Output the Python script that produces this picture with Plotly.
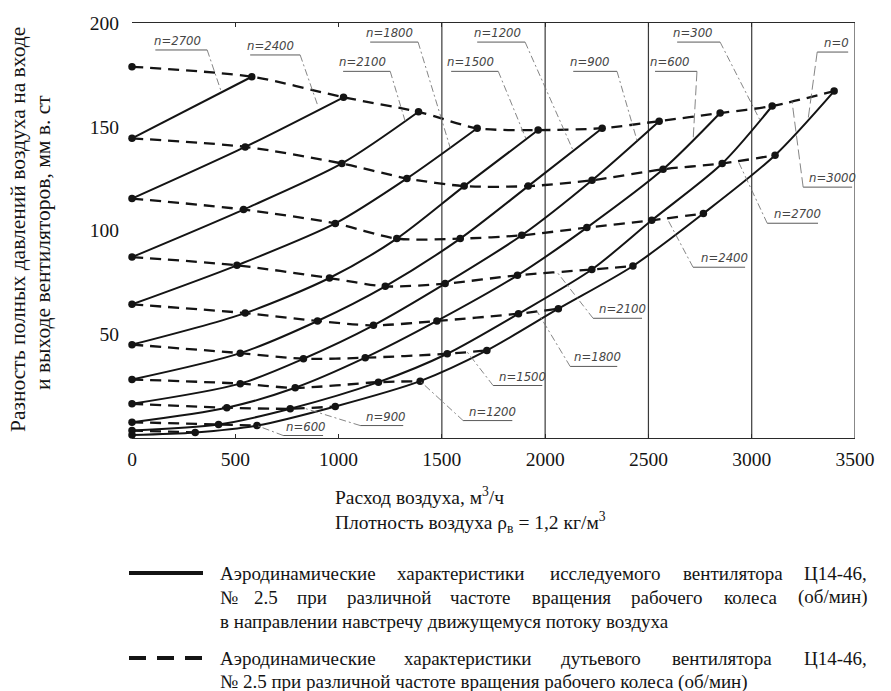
import plotly.graph_objects as go

# Blower fan characteristics (dashed family), one series per rotor speed, об/мин.
# Point j of the series for speed n lies on the studied-fan curve of speed n - 300*j.
q_3000 = [0, 580, 1024, 1387, 1671, 1966, 2276, 2552, 2847, 3099, 3399]
h_3000 = [178.9, 174.1, 164.2, 157.2, 149.3, 148.4, 149.3, 152.7, 156.6, 160.0, 167.2]
q_2700 = [0, 548, 1016, 1331, 1608, 1918, 2227, 2571, 2857, 3113]
h_2700 = [144.4, 140.3, 132.3, 125.1, 121.4, 121.4, 124.2, 129.5, 132.3, 136.3]
q_2400 = [0, 540, 984, 1282, 1589, 1887, 2202, 2516, 2766]
h_2400 = [115.4, 110.1, 103.4, 96.1, 96.1, 97.7, 101.4, 104.9, 108.2]
q_2100 = [0, 508, 956, 1226, 1516, 1866, 2226, 2425]
h_2100 = [87.2, 83.2, 77.1, 73.1, 74.4, 78.4, 81.2, 82.9]
q_1800 = [0, 548, 898, 1169, 1476, 1871, 2064]
h_1800 = [64.4, 60.2, 56.4, 54.3, 56.4, 59.9, 62.3]
q_1500 = [0, 524, 830, 1129, 1526, 1718]
h_1500 = [45.0, 40.9, 38.2, 38.7, 40.6, 42.2]
q_1200 = [0, 524, 790, 1193, 1395]
h_1200 = [28.2, 26.2, 24.2, 26.9, 27.4]
q_900 = [0, 459, 766, 984]
h_900 = [16.5, 14.6, 14.1, 15.2]
q_600 = [0, 419, 605]
h_600 = [7.6, 6.5, 6.0]
q_300 = [0, 306]
h_300 = [3.6, 2.7]
q_0 = [0]
h_0 = [1.5]

blower_speeds = [3000, 2700, 2400, 2100, 1800, 1500, 1200, 900, 600, 300, 0]
blower_q = [q_3000, q_2700, q_2400, q_2100, q_1800, q_1500, q_1200, q_900, q_600, q_300, q_0]
blower_h = [h_3000, h_2700, h_2400, h_2100, h_1800, h_1500, h_1200, h_900, h_600, h_300, h_0]
fan_speeds = [2700, 2400, 2100, 1800, 1500, 1200, 900, 600, 300, 0]

x_ticks = [0, 500, 1000, 1500, 2000, 2500, 3000, 3500]
y_ticks = [50, 100, 150, 200]
x_grid = [1500, 2000, 2500, 3000, 3500]

# Curve labels: text, text centre x, underline (x0, x1, y), leader (x0, y0, x1, y1), leader dash
fan_labels = [
    ("n=2700", 220, 113, 364, 187.0, 364, 187.0, 430, 167.5, "dashdot"),
    ("n=2400", 670, 572, 814, 184.6, 814, 184.6, 900, 160.0, "dashdot"),
    ("n=2100", 1114, 1022, 1250, 176.7, 1250, 176.7, 1322, 152.8, "dashdot"),
    ("n=1800", 1246, 1153, 1385, 190.8, 1385, 190.8, 1540, 140.0, "dashdot"),
    ("n=1500", 1637, 1545, 1773, 176.7, 1773, 176.7, 1908, 144.0, "dashdot"),
    ("n=1200", 1767, 1671, 1903, 190.8, 1903, 190.8, 2136, 138.4, "dashdot"),
    ("n=900", 2217, 2136, 2348, 176.7, 2348, 176.7, 2445, 143.3, "dashdot"),
    ("n=600", 2605, 2532, 2735, 176.7, 2735, 176.7, 2716, 143.0, "longdash"),
    ("n=300", 2717, 2639, 2847, 190.8, 2847, 190.8, 3040, 153.2, "dashdot"),
    ("n=0", 3408, 3317, 3467, 186.0, 3317, 186.0, 3273, 153.6, "longdash"),
]
blower_labels = [
    ("n=3000", 3389, 3249, 3486, 120.9, 3249, 120.9, 3195, 162.3, "longdash"),
    ("n=2700", 3220, 3075, 3321, 103.5, 3075, 103.5, 2934, 133.5, "dashdot"),
    ("n=2400", 2867, 2716, 2968, 82.3, 2716, 82.3, 2590, 105.9, "dashdot"),
    ("n=2100", 2373, 2232, 2469, 57.7, 2232, 57.7, 2058, 79.9, "dashdot"),
    ("n=1800", 2252, 2121, 2349, 34.5, 2121, 34.5, 1961, 61.0, "dashdot"),
    ("n=1500", 1889, 1748, 1986, 25.3, 1748, 25.3, 1623, 41.4, "dashdot"),
    ("n=1200", 1743, 1603, 1841, 8.4, 1603, 8.4, 1395, 27.4, "dashdot"),
    ("n=900", 1230, 1105, 1313, 6.0, 1105, 6.0, 829, 14.5, "dashdot"),
    ("n=600", 843, 732, 925, 1.2, 732, 1.2, 610, 5.8, "dashdot"),
]

INK = "#141414"
GREY = "#5a5a5a"
SERIF = "Liberation Serif, Times New Roman, serif"
NARROW = "Liberation Sans Narrow, DejaVu Sans Condensed, DejaVu Sans, sans-serif"

W, H = 891, 691
ML, MR, MT, MB = 132, 36, 23, 253
PW, PH = W - ML - MR, H - MT - MB


def fx(px):
    return (px - ML) / PW


def fy(py):
    return (MT + PH - py) / PH


fig = go.Figure()

# studied fan: solid curves, one per rotor speed
for a in fan_speeds:
    pts = []
    for b, q, h in zip(blower_speeds, blower_q, blower_h):
        if b >= a:
            j = (b - a) // 300
            pts.append((q[j], h[j]))
    pts.sort()
    fig.add_trace(go.Scatter(
        x=[p[0] for p in pts], y=[p[1] for p in pts], mode="lines",
        line=dict(color=INK, width=2, shape="spline", smoothing=0.8),
        cliponaxis=False, hoverinfo="skip", showlegend=False))

# blower fan: dashed curves
for b, q, h in zip(blower_speeds, blower_q, blower_h):
    if len(q) > 1:
        fig.add_trace(go.Scatter(
            x=q, y=h, mode="lines",
            line=dict(color=INK, width=2.3, dash="11px,7px", shape="spline", smoothing=0.8),
            cliponaxis=False, hoverinfo="skip", showlegend=False))

# operating points
for b, q, h in zip(blower_speeds, blower_q, blower_h):
    fig.add_trace(go.Scatter(
        x=q, y=h, mode="markers",
        marker=dict(color=INK, size=7.5, line=dict(width=0)),
        cliponaxis=False, showlegend=False, name=f"n={b}"))

shapes = []
for gx in x_grid:
    shapes.append(dict(type="line", xref="x", yref="paper", x0=gx, x1=gx, y0=0, y1=1,
                       line=dict(color="#3a3a3a", width=1.2), layer="below"))

annotations = []
for (txt, tx, ux0, ux1, uy, lx0, ly0, lx1, ly1, dash) in fan_labels + blower_labels:
    annotations.append(dict(x=tx, y=uy, xref="x", yref="y", text=f"<i>{txt}</i>",
                            showarrow=False, xanchor="center", yanchor="bottom",
                            borderpad=0, yshift=1,
                            font=dict(family=NARROW, size=13, color="#454545")))
    shapes.append(dict(type="line", xref="x", yref="y", x0=ux0, x1=ux1, y0=uy, y1=uy,
                       line=dict(color=GREY, width=1)))
    shapes.append(dict(type="line", xref="x", yref="y", x0=lx0, y0=ly0, x1=lx1, y1=ly1,
                       line=dict(color="#777777", width=0.9,
                                 dash="7px,3px,2px,3px" if dash == "dashdot" else "10px,4px")))

# axis titles
annotations += [
    dict(xref="paper", yref="paper", x=fx(18), y=fy(230), text="Разность полных давлений воздуха на входе",
         textangle=-90, showarrow=False, xanchor="center", yanchor="middle",
         font=dict(family=SERIF, size=21.5, color=INK)),
    dict(xref="paper", yref="paper", x=fx(43), y=fy(243), text="и выходе вентиляторов, мм в. ст",
         textangle=-90, showarrow=False, xanchor="center", yanchor="middle",
         font=dict(family=SERIF, size=21.5, color=INK)),
    dict(xref="paper", yref="paper", x=fx(333), y=fy(496), text="Расход воздуха, м<sup>3</sup>/ч",
         showarrow=False, xanchor="left", yanchor="middle",
         font=dict(family=SERIF, size=19.5, color=INK)),
    dict(xref="paper", yref="paper", x=fx(333), y=fy(522),
         text="Плотность воздуха ρ<sub>в</sub> = 1,2 кг/м<sup>3</sup>",
         showarrow=False, xanchor="left", yanchor="middle",
         font=dict(family=SERIF, size=19.5, color=INK)),
]

# key below the chart (justified lines set word by word)
key_rows = [
    (573, [("Аэродинамические", 218), ("характеристики", 395), ("исследуемого", 548),
           ("вентилятора", 681), ("Ц14-46,", None)]),
    (597, [("№", 218), ("2.5", 252), ("при", 295), ("различной", 345), ("частоте", 448),
           ("вращения", 530), ("рабочего", 629), ("колеса", 722), ("(об/мин)", None)]),
    (621, [("в направлении навстречу движущемуся потоку воздуха", 218)]),
    (658, [("Аэродинамические", 218), ("характеристики", 402), ("дутьевого", 559),
           ("вентилятора", 670), ("Ц14-46,", None)]),
    (682, [("№ 2.5 при различной частоте вращения рабочего колеса (об/мин)", 218)]),
]
for py, words in key_rows:
    for word, px in words:
        annotations.append(dict(
            xref="paper", yref="paper", x=fx(869 if px is None else px), y=fy(py), text=word,
            showarrow=False, xanchor="right" if px is None else "left", yanchor="middle",
            font=dict(family=SERIF, size=19, color=INK)))

shapes.append(dict(type="line", xref="paper", yref="paper", x0=fx(129), x1=fx(203),
                   y0=fy(573), y1=fy(573), line=dict(color=INK, width=4)))
shapes.append(dict(type="line", xref="paper", yref="paper", x0=fx(129), x1=fx(203),
                   y0=fy(658), y1=fy(658), line=dict(color=INK, width=4, dash="17px,11px")))

fig.update_layout(
    width=W, height=H, autosize=False,
    margin=dict(l=ML, r=MR, t=MT, b=MB, pad=0),
    paper_bgcolor="white", plot_bgcolor="white",
    showlegend=False,
    shapes=shapes, annotations=annotations,
    xaxis=dict(range=[0, 3500], tickvals=x_ticks, ticktext=[str(v) for v in x_ticks],
               showgrid=False, zeroline=False, showline=True, mirror="ticks",
               linecolor="#2a2a2a", linewidth=1.2, ticks="inside", ticklen=4,
               tickcolor="#2a2a2a", ticklabelstandoff=3,
               tickfont=dict(family=SERIF, size=19.5, color=INK)),
    yaxis=dict(range=[0, 200], tickvals=y_ticks, ticktext=[str(v) for v in y_ticks],
               showgrid=False, zeroline=False, showline=False, ticks="",
               ticklabelstandoff=12,
               tickfont=dict(family=SERIF, size=19.5, color=INK)),
)

fig.write_html("out.html")
